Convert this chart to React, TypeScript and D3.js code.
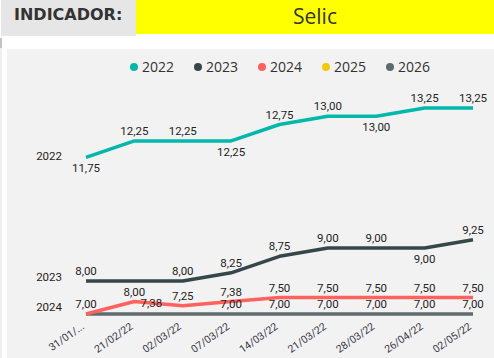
import React, { useEffect, useRef } from "react";
import * as d3 from "d3";

// dates on the x axis
const dates = ["31/01/...", "21/02/22", "02/03/22", "07/03/22", "14/03/22", "21/03/22", "28/03/22", "26/04/22", "02/05/22"];
const seriesNames = ["2022", "2023", "2024", "2025", "2026"];
const colors = ["#01B8AA", "#374649", "#FD625E", "#F2C80F", "#5F6B6D"];

const v2022 = [11.75, 12.25, 12.25, 12.25, 12.75, 13.0, 13.0, 13.25, 13.25];
const v2023 = [8.0, 8.0, 8.0, 8.25, 8.75, 9.0, 9.0, 9.0, 9.25];
const v2024 = [7.0, 7.38, 7.25, 7.38, 7.5, 7.5, 7.5, 7.5, 7.5];
const v2025: number[] = [];
const v2026 = [7.0, 7.0, 7.0, 7.0, 7.0, 7.0, 7.0, 7.0, 7.0];

// where each data label goes: a = above, b = below, r = right, n = hidden
const place2022 = ["b", "a", "a", "b", "a", "a", "b", "a", "a"];
const place2023 = ["a", "b", "a", "a", "a", "a", "a", "b", "a"];
const place2024 = ["a", "r", "a", "a", "a", "a", "a", "a", "a"];
const place2026 = ["n", "n", "n", "a", "a", "a", "a", "a", "a"];

const W = 494, H = 358;

function App() {
    const ref = useRef<SVGSVGElement>(null);

    useEffect(() => {
        document.body.style.margin = "0";
        const svg = d3.select(ref.current);
        svg.selectAll("*").remove();

        // header
        svg.append("rect").attr("x", 1).attr("y", 0).attr("width", 135).attr("height", 36).attr("fill", "#E6E6E6");
        svg.append("text").attr("x", 14).attr("y", 15).text("INDICADOR:")
            .attr("font-family", "'DejaVu Sans', sans-serif").attr("font-weight", "bold")
            .attr("font-size", 16).attr("fill", "#333").attr("dominant-baseline", "middle");
        svg.append("rect").attr("x", 136).attr("y", 0).attr("width", W - 136).attr("height", 34).attr("fill", "#FFFF00");
        svg.append("text").attr("x", 315).attr("y", 18).text("Selic")
            .attr("text-anchor", "middle").attr("dominant-baseline", "middle")
            .attr("font-family", "'Open Sans', sans-serif").attr("font-size", 21).attr("fill", "#333");

        // chart panel
        svg.append("line").attr("x1", 1).attr("x2", 1).attr("y1", 38).attr("y2", H).attr("stroke", "#ddd");
        svg.append("line").attr("x1", 1).attr("x2", 1).attr("y1", 38).attr("y2", 48).attr("stroke", "#999");
        svg.append("rect").attr("x", 7).attr("y", 49).attr("width", W - 7).attr("height", H - 49).attr("fill", "#F2F2F2");

        const x = d3.scalePoint<string>().domain(dates).range([86, 473]);
        const y = d3.scaleLinear().domain([7, 13.25]).range([314, 108]);

        // legend
        const lx = [134, 198, 262, 326, 390];
        seriesNames.forEach((n, i) => {
            const g = svg.append("g").attr("transform", `translate(${lx[i]},67)`);
            g.append("circle").attr("r", 4).attr("fill", colors[i]);
            g.append("text").attr("x", 8).attr("dy", "0.35em").text(n)
                .attr("font-family", "'Open Sans', sans-serif").attr("font-size", 14).attr("fill", "#333");
        });

        const fmt = (v: number) => d3.format(".2f")(v).replace(".", ",");
        const line = d3.line<number>().x((_, i) => x(dates[i])!).y(d => y(d));

        const all = [v2022, v2023, v2024, v2025, v2026];
        // draw bottom series first
        [4, 3, 2, 1, 0].forEach(si => {
            const vals = all[si];
            if (!vals.length) return;
            svg.append("path").datum(vals).attr("d", line)
                .attr("fill", "none").attr("stroke", colors[si]).attr("stroke-width", 3.5)
                .attr("stroke-linejoin", "round");
        });

        const labelFont = "Roboto, sans-serif";
        const places: [number[], string[]][] = [[v2022, place2022], [v2023, place2023], [v2024, place2024], [v2026, place2026]];
        places.forEach(([vals, pl]) => {
            vals.forEach((v, i) => {
                const p = pl[i];
                if (p === "n") return;
                let tx = x(dates[i])!, ty = y(v);
                if (p === "a") ty -= 9;
                else if (p === "b") ty += 12;
                else if (p === "r") { tx += 17; ty += 2; }
                svg.append("text").attr("x", tx).attr("y", ty).text(fmt(v))
                    .attr("text-anchor", "middle").attr("dominant-baseline", "middle")
                    .attr("font-family", labelFont).attr("font-size", 11.5).attr("fill", "#252423");
            });
        });

        // series name labels at the start
        const nameY = [y(v2022[0]), y(v2023[0]) - 3, y(v2024[0]) - 6];
        nameY.forEach((yy, i) => {
            svg.append("text").attr("x", 62).attr("y", yy).text(seriesNames[i])
                .attr("text-anchor", "end").attr("dominant-baseline", "middle")
                .attr("font-family", labelFont).attr("font-size", 11.5).attr("fill", "#252423");
        });

        // x tick labels
        dates.forEach(d => {
            svg.append("text").text(d)
                .attr("transform", `translate(${x(d)! - 3},${325}) rotate(-35)`)
                .attr("text-anchor", "end").attr("dy", "0.35em")
                .attr("font-family", labelFont).attr("font-size", 10.5).attr("fill", "#3b3a48");
        });
    }, []);

    return (
        <div style={{ position: "absolute", left: 0, top: 0 }}>
            <svg ref={ref} width={W} height={H} style={{ display: "block" }}></svg>
        </div>
    );
}

export default App;
